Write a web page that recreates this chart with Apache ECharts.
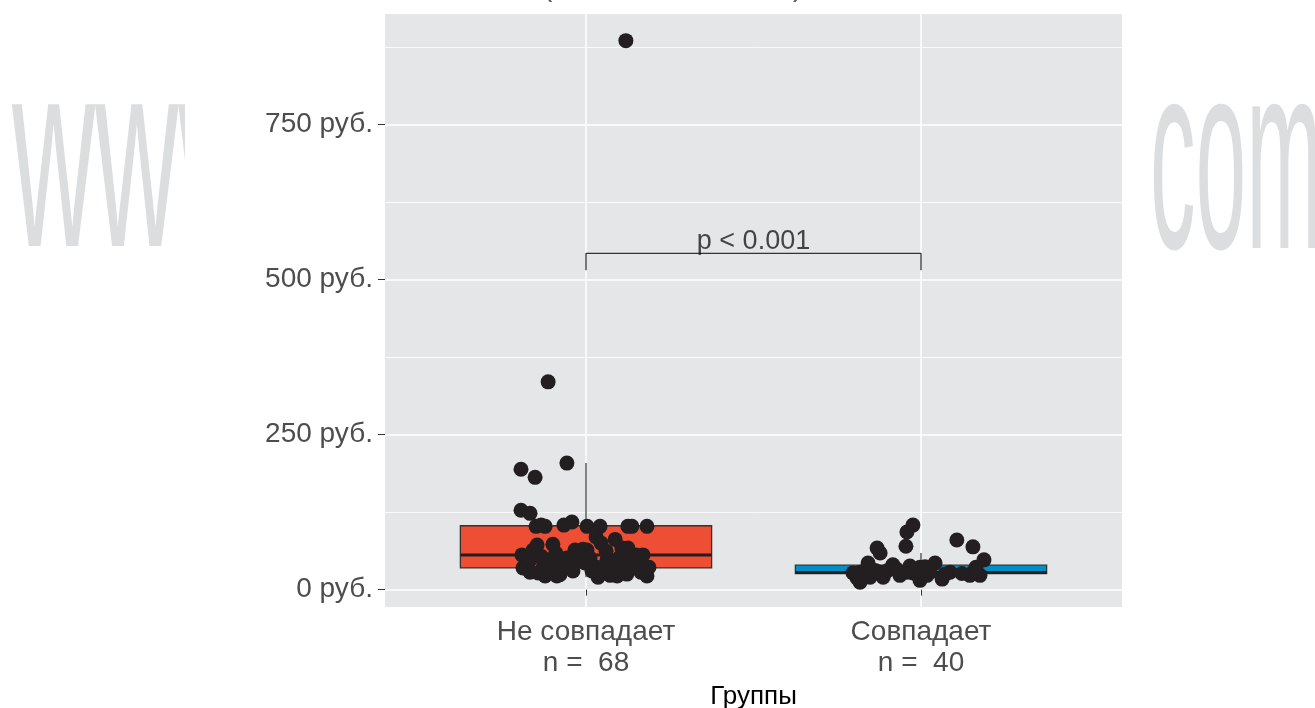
<!DOCTYPE html>
<html><head><meta charset="utf-8">
<script src="https://cdn.jsdelivr.net/npm/echarts@6/dist/echarts.min.js"></script>
<style>html,body{margin:0;padding:0;background:#fff}#c{width:1315px;height:708px}</style>
</head><body><div id="c"></div><script>
// ---- data ----
const categories = ['Не совпадает', 'Совпадает'];
const counts = [68, 40];
const yTicks = [0, 250, 500, 750];
const yMinorTicks = [125, 375, 625, 875];
const xTicks = [1, 2];
// [lower whisker, Q1, median, Q3, upper whisker]
const boxStatsA = [20, 35, 56, 103, 204];
const boxStatsB = [12, 26, 27.5, 39.5, 59];
// jittered points: [x position (group index + jitter), value]
const pointsA = [
  [1.119,885],[0.887,335],[0.943,204],[0.806,194],[0.848,181],[0.806,128],[0.833,123],
  [0.851,102],[0.878,102],[0.934,104],[0.958,109],[1.003,102],[1.042,102],[1.125,102],[1.137,102],[1.182,102],[0.866,104],
  [0.901,73],[0.854,72],[1.087,81],[1.030,85],[1.045,75],[1.125,67],[1.170,56],[0.809,56],[0.991,65],[1.003,64],
  [0.812,35],[0.857,27],[0.913,22],[0.961,30],[0.997,43],[1.072,23],[1.122,25],[1.182,22],[1.188,36],[1.140,35],
  [0.842,64],[0.884,48],[0.922,43],[1.033,36],[1.063,48],[1.101,52],[0.943,51],[0.872,36],[1.081,35],[1.122,48],
  [0.833,48],[0.893,31],[0.937,38],[0.976,48],[1.018,30],[1.054,31],[1.099,38],[1.155,44],[1.164,28],[0.910,59],
  [0.967,64],[1.060,62],[1.107,67],[0.878,22],[0.833,28],[1.012,51],[1.093,22],[0.922,24],[1.149,56],[0.866,54],[1.036,20]
];
const pointsB = [
  [1.976,104],[1.958,93],[1.955,70],[1.869,67],[1.878,59],[2.107,80],[2.155,69],[2.188,48],[1.842,43],[1.916,40],
  [2.042,43],[1.997,36],[1.818,28],[1.809,19],[1.818,12],[1.848,20],[1.878,28],[1.937,23],[1.976,27],[1.997,15],
  [2.018,23],[2.063,17],[2.087,28],[2.155,28],[2.176,23],[2.146,23],[1.797,27],[1.958,28],[1.833,23],[1.901,31],
  [1.925,34],[1.991,30],[2.012,37],[2.027,28],[2.072,25],[2.122,26],[2.164,36],[1.887,20],[1.967,38],[1.863,31]
];
const pValueText = 'p < 0.001';
const bracketPath = [[1,515],[1,542],[2,542],[2,515]];
const pLabelPos = [1.5, 542];

// ---- styles ----
const boxColors = ['#EE4F34', '#0090C5'];
const FONT = '"Liberation Sans", Arial, sans-serif';

const chart = echarts.init(document.getElementById('c'));
chart.setOption({
  animation: false,
  backgroundColor: '#ffffff',
  grid: {left: 385, right: 193, top: 14, bottom: 101, show: true, backgroundColor: '#e5e6e8', borderWidth: 0,
    outerBoundsMode: 'none', containLabel: false},
  xAxis: {
    type: 'value', min: 0.4, max: 2.6,
    axisLine: {show: false},
    axisTick: {show: true, customValues: xTicks, length: 6, lineStyle: {color: '#333', width: 1}},
    axisLabel: {customValues: xTicks, margin: 10, fontSize: 28, lineHeight: 31, color: '#4d4d4d', fontFamily: FONT,
      formatter: v => categories[Math.round(v) - 1] + '\nn =  ' + counts[Math.round(v) - 1]},
    splitLine: {show: true, lineStyle: {color: '#ffffff', width: 1.5}},
    name: 'Группы', nameLocation: 'middle', nameGap: 68,
    nameTextStyle: {fontSize: 26, color: '#000', fontFamily: FONT}
  },
  yAxis: [{
    type: 'value', min: -28, max: 928,
    axisLine: {show: false},
    axisTick: {show: true, customValues: yTicks, length: 7, lineStyle: {color: '#333', width: 1}},
    axisLabel: {customValues: yTicks, margin: 12, fontSize: 28, color: '#4d4d4d', fontFamily: FONT,
      formatter: v => v + ' руб.'},
    splitLine: {show: true, lineStyle: {color: '#ffffff', width: 1.5}}
  }, {
    type: 'value', min: -28, max: 928, position: 'left',
    axisLine: {show: false},
    axisTick: {show: false, customValues: yMinorTicks},
    axisLabel: {show: false, customValues: yMinorTicks},
    splitLine: {show: true, lineStyle: {color: '#ffffff', width: 0.8}}
  }],
  series: [{
    type: 'custom',
    z: 2,
    encode: {x: 0, y: [1, 2, 3, 4, 5]},
    data: [[1].concat(boxStatsA), [2].concat(boxStatsB)],
    renderItem: function (params, api) {
      const x = api.value(0);
      const pLo = api.coord([x, api.value(1)]);
      const pQ1 = api.coord([x, api.value(2)]);
      const pMed = api.coord([x, api.value(3)]);
      const pQ3 = api.coord([x, api.value(4)]);
      const pHi = api.coord([x, api.value(5)]);
      const half = api.coord([x + 0.375, 0])[0] - pLo[0];
      const cx = pLo[0];
      return {type: 'group', children: [
        {type: 'line', shape: {x1: cx, y1: pHi[1], x2: cx, y2: pQ3[1]}, style: {stroke: '#333', lineWidth: 1.2}},
        {type: 'line', shape: {x1: cx, y1: pQ1[1], x2: cx, y2: pLo[1]}, style: {stroke: '#333', lineWidth: 1.2}},
        {type: 'rect', shape: {x: cx - half, y: pQ3[1], width: 2 * half, height: pQ1[1] - pQ3[1]},
          style: {fill: boxColors[params.dataIndex], stroke: '#333', lineWidth: 1.3}},
        {type: 'line', shape: {x1: cx - half, y1: pMed[1], x2: cx + half, y2: pMed[1]}, style: {stroke: '#231f20', lineWidth: 3}}
      ]};
    }
  }, {
    type: 'scatter', z: 3, silent: true,
    symbolSize: 15,
    itemStyle: {color: '#231f20', opacity: 1},
    data: pointsA.concat(pointsB)
  }, {
    type: 'line', z: 4, silent: true, showSymbol: false, symbol: 'none',
    lineStyle: {color: '#333', width: 1.3},
    data: bracketPath
  }, {
    type: 'scatter', z: 5, silent: true, symbolSize: 0,
    data: [pLabelPos],
    label: {show: true, position: 'top', distance: -2, formatter: pValueText, fontSize: 27, color: '#1a1a1a', fontFamily: FONT}
  }],
  graphic: [
    {type: 'text', z: -10, x: 12, y: 172, scaleX: 0.43, silent: true,
      style: {text: 'www', font: '268px "Liberation Sans"', fill: '#dcdddf', verticalAlign: 'middle'}},
    {type: 'rect', z: -9, silent: true, shape: {x: 185, y: 60, width: 78, height: 230}, style: {fill: '#ffffff'}},
    {type: 'text', z: -10, x: 1150, y: 174, scaleX: 0.34, silent: true,
      style: {text: 'com', font: '268px "Liberation Sans"', fill: '#dcdddf', verticalAlign: 'middle'}},
    {type: 'text', z: -10, x: 543, y: -12, silent: true,
      style: {text: '(', font: '28px "Liberation Sans"', fill: '#555', verticalAlign: 'middle'}},
    {type: 'text', z: -10, x: 793, y: -12, silent: true,
      style: {text: ')', font: '28px "Liberation Sans"', fill: '#555', verticalAlign: 'middle'}}
  ]
});
</script></body></html>
